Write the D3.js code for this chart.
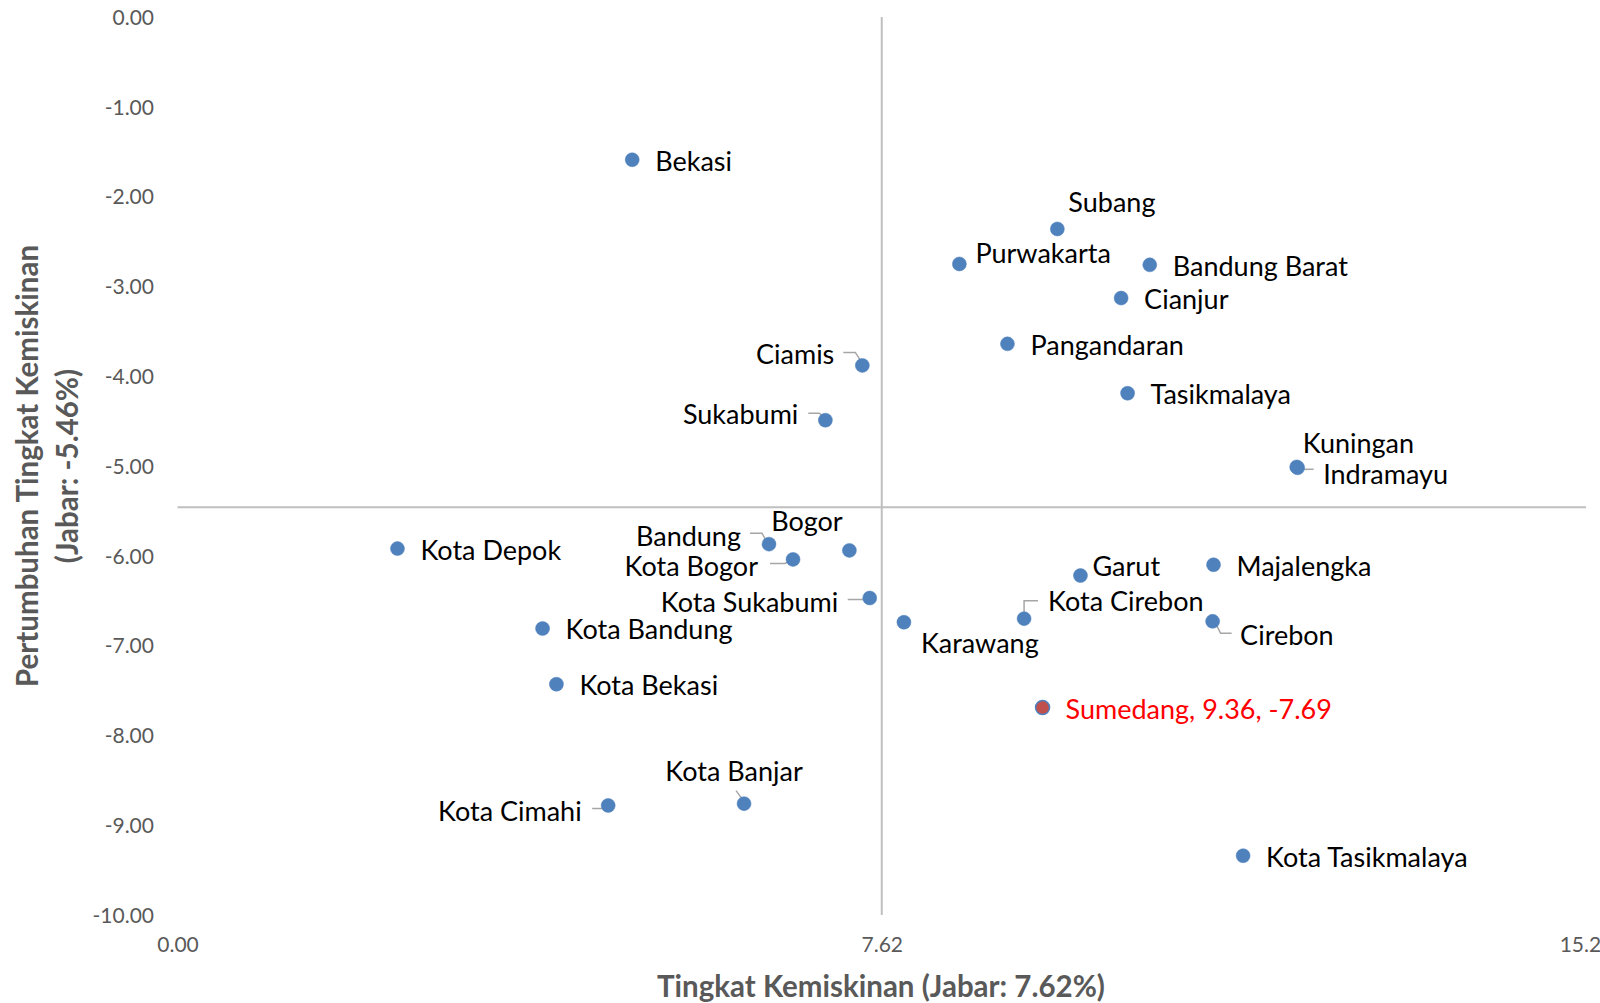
<!DOCTYPE html>
<html>
<head>
<meta charset="utf-8">
<script src="https://cdn.jsdelivr.net/npm/d3@7/dist/d3.min.js"></script>
<style>
  html, body { margin: 0; padding: 0; background: #ffffff; }
  svg { display: block; }
  text { font-family: Lato, "Open Sans", sans-serif; }
</style>
</head>
<body>
<svg id="chart" width="1600" height="1003"></svg>
<script>
// ---- data ----
const regions = ["Bekasi","Subang","Purwakarta","Bandung Barat","Cianjur","Pangandaran","Tasikmalaya",
  "Ciamis","Sukabumi","Kuningan","Indramayu","Kota Depok","Bandung","Bogor","Kota Bogor",
  "Kota Sukabumi","Karawang","Garut","Kota Cirebon","Majalengka","Cirebon","Kota Bandung",
  "Kota Bekasi","Sumedang","Kota Banjar","Kota Cimahi","Kota Tasikmalaya"];
const povertyRate = [4.92, 9.52, 8.46, 10.52, 10.21, 8.98, 10.28,
  7.41, 7.01, 12.11, 12.12, 2.38, 6.40, 7.27, 6.66,
  7.49, 7.86, 9.77, 9.16, 11.21, 11.20, 3.95,
  4.10, 9.36, 6.13, 4.66, 11.53];
const povertyGrowth = [-1.59, -2.36, -2.75, -2.76, -3.13, -3.64, -4.19,
  -3.88, -4.49, -5.01, -5.02, -5.92, -5.87, -5.94, -6.04,
  -6.47, -6.74, -6.22, -6.70, -6.10, -6.73, -6.81,
  -7.43, -7.69, -8.76, -8.78, -9.34];
const highlight = "Sumedang";
const xTicks = [0, 7.62, 15.24];
const yTicks = [0, -1, -2, -3, -4, -5, -6, -7, -8, -9, -10];
const xRef = 7.62, yRef = -5.46;
const xTitle = "Tingkat Kemiskinan (Jabar: 7.62%)";
const yTitle = ["Pertumbuhan Tingkat Kemiskinan", "(Jabar: -5.46%)"];

// ---- label layout (pixel offsets from the marker) ----
const defaultLabel = {dx: 23, dy: 1.5, anchor: "start"};
const labelLayout = {
  "Subang": {dx: 11, dy: -26, anchor: "start"},
  "Purwakarta": {dx: 16, dy: -10, anchor: "start"},
  "Ciamis": {dx: -28, dy: -11, anchor: "end", leader: [[-19,-13],[-7,-13],[0,-2]]},
  "Sukabumi": {dx: -27, dy: -6, anchor: "end", leader: [[-17,-7],[-6,-7],[0,-2]]},
  "Kuningan": {dx: 6, dy: -23.5, anchor: "start"},
  "Indramayu": {dx: 25.5, dy: 6.5, anchor: "start", leader: [[2,1.5],[16,1.5]]},
  "Bandung": {dx: -28, dy: -7.5, anchor: "end", leader: [[-19,-11],[-7,-11],[-2,-2]]},
  "Bogor": {dx: -42.5, dy: -28.5, anchor: "middle"},
  "Kota Bogor": {dx: -35, dy: 7.5, anchor: "end", leader: [[-23,4],[-8,4],[-2,1]]},
  "Kota Sukabumi": {dx: -31.5, dy: 5, anchor: "end", leader: [[-22,1.5],[-6,1.5]]},
  "Karawang": {dx: 17, dy: 21.5, anchor: "start"},
  "Garut": {dx: 12, dy: -9, anchor: "start"},
  "Kota Cirebon": {dx: 24, dy: -17.5, anchor: "start", leader: [[0,-2],[0,-18],[14,-18]]},
  "Cirebon": {dx: 27.5, dy: 14, anchor: "start", leader: [[3,2],[8,12],[19,12]]},
  "Kota Banjar": {dx: -10, dy: -32.5, anchor: "middle", leader: [[-8,-13],[0,-2]]},
  "Kota Cimahi": {dx: -26.5, dy: 6, anchor: "end", leader: [[-16,3],[-5,3],[0,1]]}
};

// ---- drawing ----
const svg = d3.select("#chart");
const x = d3.scaleLinear().domain([0, 15.24]).range([177.5, 1586]);
const y = d3.scaleLinear().domain([-10, 0]).range([915, 17]);

const grey = "#595959";
const lineCol = "#bfbfbf";
const fmt = v => d3.format(".2f")(v).replace("\u2212", "-");

// reference lines (axes crossing)
svg.append("line")
  .attr("x1", x(0)).attr("x2", x(15.24))
  .attr("y1", y(yRef)).attr("y2", y(yRef))
  .attr("stroke", lineCol).attr("stroke-width", 2);
svg.append("line")
  .attr("x1", x(xRef)).attr("x2", x(xRef))
  .attr("y1", y(0)).attr("y2", y(-10))
  .attr("stroke", lineCol).attr("stroke-width", 2);

// y tick labels
const yAxis = d3.axisLeft(y).tickValues(yTicks).tickFormat(fmt).tickSize(0).tickPadding(0);
const gy = svg.append("g").attr("transform", "translate(154,0)").call(yAxis);
gy.select(".domain").remove();
gy.selectAll("text").attr("fill", grey).style("font-size", "21px")
  .style("font-family", "Lato, 'Open Sans', sans-serif").attr("dy", "0.35em");

// x tick labels
const xAxis = d3.axisBottom(x).tickValues(xTicks).tickFormat(fmt).tickSize(0).tickPadding(0);
const gx = svg.append("g").attr("transform", "translate(0,937)").call(xAxis);
gx.select(".domain").remove();
gx.selectAll("text").attr("fill", grey).style("font-size", "21px")
  .style("font-family", "Lato, 'Open Sans', sans-serif").attr("dy", "0.71em");

// axis titles
svg.append("text").attr("x", 881).attr("y", 987).attr("dy", "0.35em")
  .attr("text-anchor", "middle").attr("fill", grey)
  .style("font-size", "29.5px").style("font-weight", "bold").text(xTitle);
yTitle.forEach((t, i) => {
  const cx = i === 0 ? 27.5 : 67.5;
  svg.append("text").attr("transform", `translate(${cx},466) rotate(-90)`)
    .attr("dy", "0.35em").attr("text-anchor", "middle").attr("fill", grey)
    .style("font-size", "29.5px").style("font-weight", "bold").text(t);
});

const data = regions.map((r, i) => ({name: r, px: povertyRate[i], py: povertyGrowth[i]}));

// leader lines
const lg = svg.append("g");
data.forEach(d => {
  const L = labelLayout[d.name];
  if (L && L.leader) {
    const cx = x(d.px), cy = y(d.py);
    lg.append("polyline")
      .attr("points", L.leader.map(p => [cx + p[0], cy + p[1]].join(",")).join(" "))
      .attr("fill", "none").attr("stroke", "#a6a6a6").attr("stroke-width", 1.5);
  }
});

// markers
svg.append("g").selectAll("circle").data(data).join("circle")
  .attr("cx", d => x(d.px)).attr("cy", d => y(d.py)).attr("r", 7)
  .attr("fill", d => d.name === highlight ? "#c0504d" : "#4f81bd")
  .attr("stroke", "#4f81bd").attr("stroke-width", d => d.name === highlight ? 1.5 : 0.5);

// labels
svg.append("g").selectAll("text").data(data).join("text")
  .attr("x", d => x(d.px) + (labelLayout[d.name] || defaultLabel).dx)
  .attr("y", d => y(d.py) + (labelLayout[d.name] || defaultLabel).dy)
  .attr("dy", "0.35em")
  .attr("text-anchor", d => (labelLayout[d.name] || defaultLabel).anchor)
  .attr("fill", d => d.name === highlight ? "#ff0000" : "#000000")
  .style("font-size", "27px")
  .text(d => d.name === highlight ? `${d.name}, ${d.px.toFixed(2)}, ${d.py.toFixed(2)}` : d.name);
</script>
</body>
</html>
